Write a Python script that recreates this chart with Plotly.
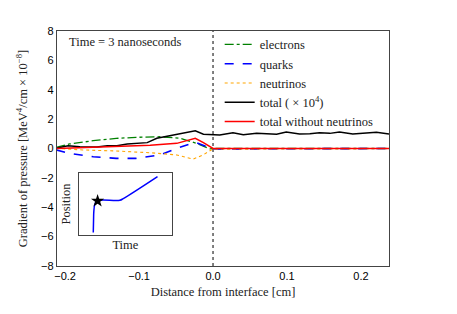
import plotly.graph_objects as go

# ---------------- data ----------------
electrons_x = [-0.212, -0.194, -0.162, -0.131, -0.104, -0.072, -0.045, -0.022, -0.004, 0.0, 0.238]
electrons_y = [0.08, 0.31, 0.53, 0.69, 0.76, 0.80, 0.70, 0.35, -0.03, 0.0, 0.0]

quarks_x = [-0.212, -0.194, -0.162, -0.131, -0.104, -0.072, -0.049, -0.031, -0.022, -0.0135, 0.0, 0.238]
quarks_y = [-0.10, -0.33, -0.56, -0.67, -0.67, -0.44, 0.01, 0.31, 0.39, 0.24, -0.03, 0.0]

neutrinos_x = [-0.212, -0.176, -0.131, -0.085, -0.049, -0.027, -0.0135, 0.0, 0.238]
neutrinos_y = [0.01, -0.10, -0.17, -0.29, -0.44, -0.73, -0.44, -0.03, 0.0]

total_x = [-0.211, -0.196, -0.180, -0.157, -0.143, -0.130, -0.116, -0.089, -0.076, -0.054,
           -0.024, -0.013, 0.0, 0.009, 0.027, 0.041, 0.059, 0.072, 0.086, 0.099,
           0.117, 0.131, 0.144, 0.158, 0.171, 0.189, 0.207, 0.221, 0.238]
total_y = [0.03, 0.19, 0.12, 0.10, 0.19, 0.19, 0.30, 0.40, 0.70, 0.92,
           1.21, 0.97, 0.97, 0.92, 1.07, 0.94, 1.03, 0.99, 0.97, 1.12,
           0.99, 1.00, 1.07, 1.03, 1.12, 0.99, 1.07, 1.10, 0.99]

nonu_x = [-0.211, -0.176, -0.130, -0.085, -0.049, -0.024, -0.013, 0.0, 0.238]
nonu_y = [0.0, 0.06, 0.12, 0.22, 0.35, 0.69, 0.40, 0.0, 0.0]

inset_time = [0.152, 0.155, 0.158, 0.168, 0.188, 0.224, 0.44, 0.477, 0.848]
inset_pos = [0.043, 0.245, 0.38, 0.49, 0.537, 0.56, 0.56, 0.585, 0.936]
star_time = [0.199]
star_pos = [0.548]

x_ticks = [-0.2, -0.1, 0.0, 0.1, 0.2]
x_ticklabels = ["\u22120.2", "\u22120.1", "0.0", "0.1", "0.2"]
y_ticks = [8, 6, 4, 2, 0, -2, -4, -6, -8]
y_ticklabels = ["8", "6", "4", "2", "0", "\u22122", "\u22124", "\u22126", "\u22128"]

SERIF = "Liberation Serif, DejaVu Serif, serif"
SANS = "Liberation Sans, Arial, sans-serif"
TXT = "#222"

fig = go.Figure()
fig.add_trace(go.Scatter(x=electrons_x, y=electrons_y, mode="lines", name="electrons",
                         line=dict(color="#008000", width=1.3, dash="dashdot")))
fig.add_trace(go.Scatter(x=quarks_x, y=quarks_y, mode="lines", name="quarks",
                         line=dict(color="#0000ff", width=1.6, dash="dash")))
fig.add_trace(go.Scatter(x=neutrinos_x, y=neutrinos_y, mode="lines", name="neutrinos",
                         line=dict(color="#ffa500", width=1.1, dash="dot")))
fig.add_trace(go.Scatter(x=total_x, y=total_y, mode="lines", name="total ( \u00d7 10<sup>4</sup>)",
                         line=dict(color="black", width=1.5)))
fig.add_trace(go.Scatter(x=nonu_x, y=nonu_y, mode="lines", name="total without neutrinos",
                         line=dict(color="#ff0000", width=1.5)))

# inset
fig.add_trace(go.Scatter(x=inset_time, y=inset_pos, mode="lines", showlegend=False,
                         line=dict(color="#0000ff", width=1.5, shape="spline"),
                         xaxis="x2", yaxis="y2"))
fig.add_trace(go.Scatter(x=star_time, y=star_pos, mode="markers", showlegend=False,
                         marker=dict(symbol="star", size=10, color="black"),
                         xaxis="x2", yaxis="y2"))

fig.add_vline(x=0, line=dict(color="black", width=1, dash="dot"))

fig.update_layout(
    width=449, height=306,
    margin=dict(l=49, r=68, t=23, b=48, autoexpand=False),
    paper_bgcolor="white", plot_bgcolor="white",
    showlegend=True,
    legend=dict(x=0.49, y=1.005, xanchor="left", yanchor="top",
                bgcolor="rgba(0,0,0,0)", borderwidth=0,
                font=dict(family=SERIF, size=12.5, color=TXT),
                tracegroupgap=0),
    xaxis=dict(range=[-0.211, 0.238], tickvals=x_ticks, ticktext=x_ticklabels,
               showgrid=False, zeroline=False, showline=True, mirror=True, automargin=False,
               linecolor="#444", linewidth=1.3, ticks="",
               tickfont=dict(family=SANS, size=11, color="black"),
               title=dict(text="Distance from interface [cm]",
                          font=dict(family=SERIF, size=12.5, color=TXT), standoff=5)),
    yaxis=dict(range=[-8, 8], tickvals=y_ticks, ticktext=y_ticklabels,
               showgrid=False, zeroline=False, showline=True, mirror=True, automargin=False,
               linecolor="#444", linewidth=1.3, ticks="",
               tickfont=dict(family=SANS, size=11, color="black"),
               title=dict(text="Gradient of pressure [MeV<sup>4</sup>/cm \u00d7 10<sup>\u22128</sup>]",
                          font=dict(family=SERIF, size=12.5, color=TXT), standoff=10)),
    xaxis2=dict(domain=[0.067, 0.345], anchor="y2", range=[0, 1], automargin=False,
                showticklabels=False, showgrid=False, zeroline=False,
                showline=True, mirror=True, linecolor="#444", linewidth=1.3, ticks="",
                title=dict(text="Time", font=dict(family=SERIF, size=12.5, color=TXT), standoff=4)),
    yaxis2=dict(domain=[0.131, 0.397], anchor="x2", range=[0, 1], automargin=False,
                showticklabels=False, showgrid=False, zeroline=False,
                showline=True, mirror=True, linecolor="#444", linewidth=1.3, ticks="",
                title=dict(text="Position", font=dict(family=SERIF, size=12.5, color=TXT), standoff=4)),
    annotations=[dict(text="Time = 3 nanoseconds", xref="paper", yref="paper",
                      x=0.03, y=0.953, xanchor="left", yanchor="middle", showarrow=False,
                      font=dict(family=SERIF, size=12.5, color=TXT))],
)

fig.write_html("out.html")
